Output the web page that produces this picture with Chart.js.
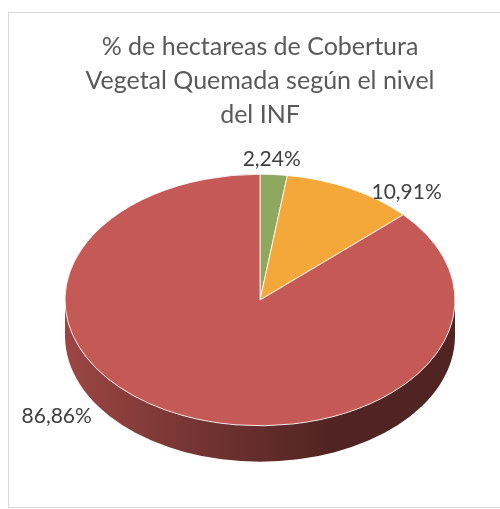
<!DOCTYPE html>
<html>
<head>
<meta charset="utf-8">
<script src="https://cdn.jsdelivr.net/npm/chart.js@4.4.0/dist/chart.umd.min.js"></script>
<style>
  html, body { margin: 0; padding: 0; background: #fff; overflow: hidden; }
  #frame { position: absolute; left: 8px; top: 12px; width: 520px; height: 494px; border: 1.5px solid #d9d9d9; }
  #wrap { position: absolute; left: 0; top: 0; width: 500px; height: 509px; }
</style>
</head>
<body>
<div id="frame"></div>
<div id="wrap"><canvas id="pie"></canvas></div>
<script>
// data
const titleLines = ['% de hectareas de Cobertura', 'Vegetal Quemada según el nivel', 'del INF'];
const levels = ['Nivel 1', 'Nivel 2', 'Nivel 3'];
const shares = [2.24, 10.91, 86.86];

const sliceColors = ['#8fa85f', '#f4a839', '#c55956'];
const tilt = 0.645;   // vertical squash of the disc
const depth = 36;     // thickness of the side wall
// where each label sits relative to the rim point at the slice middle
const labelNudge = [[-2, -15], [56, 4], [-125, 1]];

function shade(hex, f) {
    const n = parseInt(hex.slice(1), 16);
    const r = Math.round(((n >> 16) & 255) * f);
    const g = Math.round(((n >> 8) & 255) * f);
    const b = Math.round((n & 255) * f);
    return `rgb(${r},${g},${b})`;
}

const pie3d = {
    id: 'pie3d',
    beforeDatasetsDraw(chart) {
        const ctx = chart.ctx;
        const arcs = chart.getDatasetMeta(0).data;
        const cx = arcs[0].x, cy = arcs[0].y, r = arcs[0].outerRadius;
        const ry = r * tilt;

        // side walls, only the front half of the rim shows
        arcs.forEach((arc, i) => {
            for (const base of [-2 * Math.PI, 0, 2 * Math.PI]) {
                const a0 = Math.max(arc.startAngle, base);
                const a1 = Math.min(arc.endAngle, base + Math.PI);
                if (a1 <= a0) continue;
                const g = ctx.createLinearGradient(cx - r, 0, cx + r, 0);
                g.addColorStop(0, shade(sliceColors[i], 0.79));
                g.addColorStop(0.35, shade(sliceColors[i], 0.58));
                g.addColorStop(0.68, shade(sliceColors[i], 0.41));
                g.addColorStop(1, shade(sliceColors[i], 0.4));
                ctx.save();
                ctx.beginPath();
                ctx.ellipse(cx, cy, r, ry, 0, a0, a1);
                ctx.ellipse(cx, cy + depth, r, ry, 0, a1, a0, true);
                ctx.closePath();
                ctx.fillStyle = g;
                ctx.fill();
                ctx.restore();
            }
        });

        // top face: let the library draw the arcs into a squashed context
        ctx.save();
        ctx.translate(cx, cy);
        ctx.scale(1, tilt);
        ctx.translate(-cx, -cy);
    },
    afterDatasetsDraw(chart) {
        const ctx = chart.ctx;
        ctx.restore();

        const arcs = chart.getDatasetMeta(0).data;
        ctx.save();
        ctx.font = '21px Lato';
        ctx.fillStyle = '#404040';
        ctx.textAlign = 'center';
        ctx.textBaseline = 'middle';
        arcs.forEach((arc, i) => {
            const mid = (arc.startAngle + arc.endAngle) / 2;
            const x = arc.x + arc.outerRadius * Math.cos(mid) + labelNudge[i][0];
            const y = arc.y + arc.outerRadius * tilt * Math.sin(mid) + labelNudge[i][1];
            ctx.fillText(shares[i].toFixed(2).replace('.', ',') + '%', x, y);
        });
        ctx.restore();
    }
};

const chart = new Chart(document.getElementById('pie').getContext('2d'), {
    type: 'pie',
    data: {
        labels: levels,
        datasets: [{
            data: shares,
            backgroundColor: sliceColors,
            borderColor: '#ffffff',
            borderWidth: 1,
            clip: false
        }]
    },
    options: {
        responsive: true,
        maintainAspectRatio: false,
        animation: false,
        events: [],
        radius: 195,
        layout: {
            padding: { top: 0, left: 20, right: 0, bottom: 49 }
        },
        plugins: {
            legend: { display: false },
            tooltip: { enabled: false },
            title: {
                display: true,
                text: titleLines,
                color: '#595959',
                font: { family: 'Lato', size: 25, weight: 'normal', lineHeight: 1.36 },
                padding: { top: 30, bottom: 8 }
            }
        }
    },
    plugins: [pie3d]
});
</script>
</body>
</html>
